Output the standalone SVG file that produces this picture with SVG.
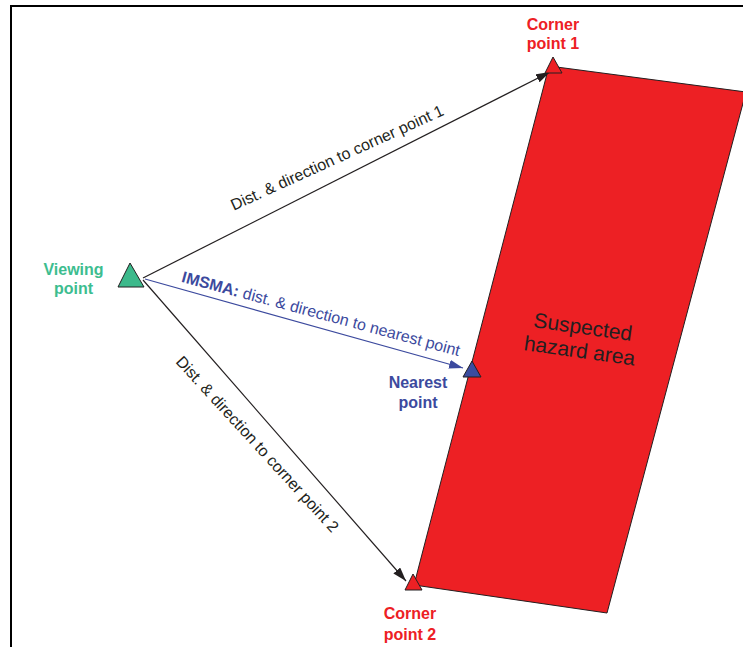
<svg xmlns="http://www.w3.org/2000/svg" width="743" height="647" viewBox="0 0 743 647">
<style>
.lbl{font-family:"Liberation Sans",Arial,sans-serif;font-size:16px;font-weight:bold;text-anchor:middle}
.red{fill:#ed2024}
.grn{fill:#3dbd8f}
.blu{fill:#3c4a9e}
.edge{font-family:"Liberation Sans",Arial,sans-serif;font-size:16px;text-anchor:middle}
.tri{stroke:#231f20;stroke-width:1}
.conn{fill:none;stroke-width:1.2}
</style>
<defs>
<marker id="ah" markerUnits="userSpaceOnUse" markerWidth="15" markerHeight="10" refX="14" refY="4.5" orient="auto"><path d="M0,0 L14,4.5 L0,9 z" fill="#231f20"/></marker>
<marker id="ahb" markerUnits="userSpaceOnUse" markerWidth="15" markerHeight="10" refX="14" refY="4.5" orient="auto"><path d="M0,0 L14,4.5 L0,9 z" fill="#3c4a9e"/></marker>
</defs>
<rect width="743" height="647" fill="#fff"/>
<path d="M11,647 V6 H743" fill="none" stroke="#000" stroke-width="2"/>
<g id="hazard-area">
<polygon points="549,66 746,92 607,613 414,585" fill="#ed2024" stroke="#231f20" stroke-width="1"/>
<g transform="translate(582,334) rotate(8)" font-family="Liberation Sans,Arial,sans-serif" font-size="21" fill="#231f20" text-anchor="middle">
<text x="0" y="0">Suspected</text>
<text x="0" y="24">hazard area</text>
</g>
</g>
<g id="connectors">
<line class="conn" x1="143" y1="278" x2="550" y2="72" stroke="#231f20" marker-end="url(#ah)"/>
<line class="conn" x1="143" y1="280" x2="406" y2="581" stroke="#231f20" marker-end="url(#ah)"/>
<line class="conn" x1="145" y1="279" x2="463" y2="368" stroke="#3c4a9e" marker-end="url(#ahb)"/>
<text class="edge" fill="#231f20" transform="translate(337,157.5) rotate(-24.5)" dy="0.35em">Dist. &amp; direction to corner point 1</text>
<text class="edge" fill="#231f20" transform="translate(257.5,444) rotate(47.5)" dy="0.35em">Dist. &amp; direction to corner point 2</text>
<text class="edge blu" transform="translate(321,313.5) rotate(15)" dy="0.35em"><tspan font-weight="bold">IMSMA:</tspan> dist. &amp; direction to nearest point</text>
</g>
<g id="viewing-point">
<polygon class="tri" points="130,263 118,287 144,287" fill="#3cb98b"/>
<text class="lbl grn" x="73.5" y="275">Viewing</text>
<text class="lbl grn" x="73.5" y="294">point</text>
</g>
<g id="corner-point-1">
<polygon class="tri" points="553,57 545,73 562,73" fill="#ed2024"/>
<text class="lbl red" x="553" y="30">Corner</text>
<text class="lbl red" x="553" y="49">point 1</text>
</g>
<g id="nearest-point">
<polygon class="tri" points="472,361 463,377 481,377" fill="#3b4ca0"/>
<text class="lbl blu" x="418" y="388">Nearest</text>
<text class="lbl blu" x="418" y="408">point</text>
</g>
<g id="corner-point-2">
<polygon class="tri" points="413,574 405,590 422,590" fill="#ed2024"/>
<text class="lbl red" x="410" y="619">Corner</text>
<text class="lbl red" x="410" y="640">point 2</text>
</g>
</svg>
